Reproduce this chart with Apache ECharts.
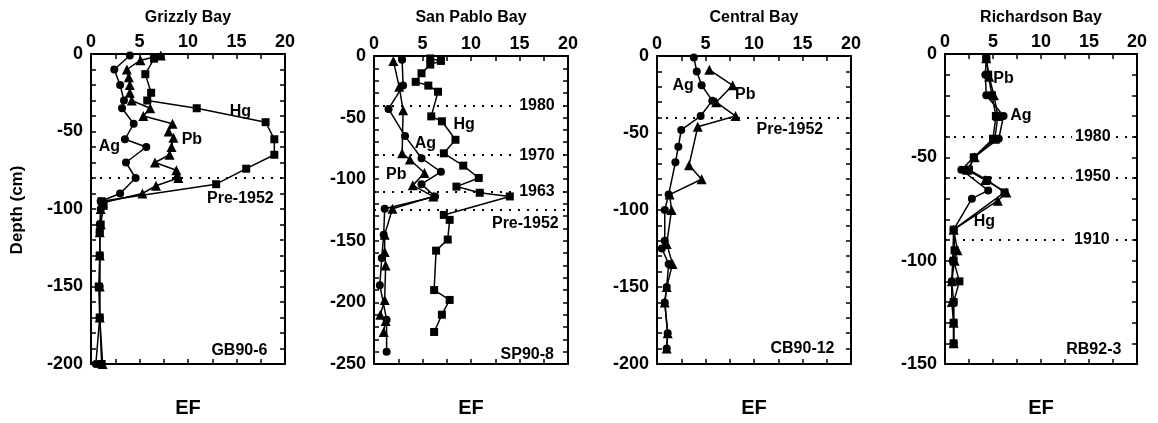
<!DOCTYPE html>
<html><head><meta charset="utf-8">
<script src="https://cdn.jsdelivr.net/npm/echarts@6/dist/echarts.min.js"></script>
<style>html,body{margin:0;padding:0;background:#fff}#c{width:1158px;height:423px}</style>
</head><body><div id="c"></div>
<script>
// ---------- DATA (EF, depth cm) ----------
const panelTitles = ['Grizzly Bay', 'San Pablo Bay', 'Central Bay', 'Richardson Bay'];
const coreNames = ['GB90-6', 'SP90-8', 'CB90-12', 'RB92-3'];
const depthMins = [-200, -250, -200, -150];
const efMax = 20;

// Grizzly Bay GB90-6
const gbAg = [[4.0,-1],[2.4,-10],[3.0,-20],[3.4,-30],[3.2,-35],[4.4,-45],[3.5,-55],[5.7,-60],[3.6,-70],[4.6,-80],[3.0,-90],[1.0,-95],[1.0,-100],[0.9,-110],[0.9,-115],[0.9,-130],[0.9,-150],[0.9,-170],[0.5,-200]];
const gbPb = [[7.2,-1],[5.1,-4],[3.7,-10],[3.9,-15],[4.0,-20],[4.0,-25],[4.2,-30],[6.1,-35],[5.4,-40],[8.4,-45],[8.0,-50],[8.5,-54],[8.3,-60],[8.1,-65],[6.6,-70],[8.8,-75],[8.9,-78],[9.0,-80],[6.7,-85],[5.3,-90],[1.2,-96],[1.0,-100],[1.0,-110],[0.9,-115],[0.9,-130],[0.9,-150],[0.9,-170],[1.2,-200]];
const gbHg = [[6.5,-3],[5.6,-13],[6.2,-25],[5.8,-30],[10.9,-35],[18.0,-44],[18.9,-55],[18.9,-65],[16.0,-74],[12.9,-84],[1.1,-95],[1.3,-98],[1.0,-110],[0.9,-115],[0.9,-130],[0.8,-150],[0.9,-170],[1.1,-200]];

// San Pablo Bay SP90-8
const spAg = [[2.9,-3],[3.0,-24],[1.5,-43],[3.2,-65],[4.9,-83],[6.9,-94],[4.9,-104],[6.3,-114],[1.1,-124],[1.0,-145],[0.8,-164],[0.6,-186],[1.3,-214],[1.3,-240]];
const spPb = [[2.0,-4],[2.6,-25],[3.0,-44],[2.9,-79],[3.7,-84],[5.2,-95],[4.0,-105],[6.1,-114],[1.9,-124],[1.1,-145],[1.1,-159],[1.2,-170],[1.1,-198],[0.65,-210],[1.2,-215],[1.0,-224]];
const spHg = [[5.8,-2],[6.9,-4],[5.8,-7],[4.9,-14],[4.3,-21],[5.6,-24],[6.6,-29],[5.9,-49],[7.0,-53],[8.4,-68],[7.2,-79],[9.2,-89],[10.8,-99],[8.5,-106],[10.9,-111],[14.0,-114],[7.2,-129],[7.8,-133],[7.6,-149],[6.4,-158],[6.2,-190],[7.8,-198],[7.0,-210],[6.2,-224]];

// Central Bay CB90-12
const cbAg = [[3.8,-1],[4.1,-10],[4.6,-19],[5.7,-29],[4.5,-39],[2.5,-48],[2.2,-59],[1.9,-69],[1.2,-90],[0.8,-100],[0.8,-120],[0.5,-125],[1.2,-135],[1.0,-150],[0.8,-160],[1.1,-180],[1.0,-190]];
const cbPb = [[5.4,-9],[7.8,-19],[6.1,-30],[8.1,-39],[4.2,-46],[3.3,-71],[4.6,-80],[1.3,-90],[1.5,-100],[1.0,-122],[1.6,-135],[1.0,-150],[0.8,-160],[1.1,-180],[1.0,-190]];

// Richardson Bay RB92-3
const rbAg = [[4.3,-2],[4.2,-10],[4.3,-20],[6.1,-30],[5.6,-41],[3.0,-50],[1.7,-56],[4.5,-66],[2.8,-70],[0.9,-85],[0.8,-100],[0.7,-110],[0.9,-120],[0.9,-130],[0.9,-140]];
const rbPb = [[4.3,-2],[4.6,-11],[5.1,-20],[5.5,-30],[5.2,-41],[3.1,-50],[2.3,-56],[4.2,-61],[6.4,-67],[5.5,-71],[0.9,-85],[1.3,-95],[1.0,-100],[0.7,-110],[0.7,-120],[0.9,-130],[0.9,-140]];
const rbHg = [[4.3,-2],[4.5,-10],[4.9,-20],[5.3,-30],[5.0,-41],[3.0,-50],[2.5,-56],[4.4,-61],[6.2,-67],[0.9,-85],[1.0,-95],[0.9,-100],[1.5,-110],[0.9,-120],[0.9,-130],[0.9,-140]];

// horizontal dated horizons (depth cm)
const gbHorizons = [-80];
const spHorizons = [-40, -80, -110, -125];
const cbHorizons = [-40];
const rbHorizons = [-40, -60, -90];

// text annotations [EF, depth, text, boxed]
const gbNotes = [[15.4,-37,'Hg',0],[10.4,-55.5,'Pb',0],[1.9,-60,'Ag',0],[15.4,-93.5,'Pre-1952',0],[15.3,-191.5,'GB90-6',0]];
const spNotes = [[9.3,-56,'Hg',0],[5.3,-71,'Ag',0],[2.3,-96,'Pb',0],[16.8,-40,'1980',1],[16.8,-81,'1970',1],[16.8,-110,'1963',1],[15.6,-136,'Pre-1952',0],[15.8,-242,'SP90-8',0]];
const cbNotes = [[2.7,-19,'Ag',0],[9.1,-25,'Pb',0],[13.7,-48,'Pre-1952',0],[15.0,-190,'CB90-12',0]];
const rbNotes = [[6.1,-12,'Pb',0],[7.9,-30,'Ag',0],[15.4,-40,'1980',1],[15.4,-59.4,'1950',1],[4.1,-81,'Hg',0],[15.3,-90,'1910',1],[15.5,-143,'RB92-3',0]];

// ---------- LAYOUT ----------
const FONT = '"Liberation Sans", Arial, Helvetica, sans-serif';
const gridBoxes = [
  {left: 91, top: 54, width: 194, height: 310},
  {left: 374, top: 56, width: 194, height: 308},
  {left: 657, top: 56, width: 194, height: 308},
  {left: 945, top: 54, width: 192, height: 310}
];
const panels = [
  {series: [['Ag', gbAg, 'circle'], ['Pb', gbPb, 'triangle'], ['Hg', gbHg, 'rect']], horizons: gbHorizons, notes: gbNotes},
  {series: [['Ag', spAg, 'circle'], ['Pb', spPb, 'triangle'], ['Hg', spHg, 'rect']], horizons: spHorizons, notes: spNotes},
  {series: [['Ag', cbAg, 'circle'], ['Pb', cbPb, 'triangle']], horizons: cbHorizons, notes: cbNotes},
  {series: [['Ag', rbAg, 'circle'], ['Pb', rbPb, 'triangle'], ['Hg', rbHg, 'rect']], horizons: rbHorizons, notes: rbNotes}
];

const axisLine = {show: true, onZero: false, lineStyle: {color: '#000', width: 2}};
const tick = {show: true, inside: true, length: 5, lineStyle: {color: '#000', width: 1.5}};
const labelFont = {color: '#000', fontFamily: FONT, fontWeight: 'bold', fontSize: 18};

const grid = [], xAxis = [], yAxis = [], series = [], graphic = [];
gridBoxes.forEach((g, i) => {
  grid.push(Object.assign({containLabel: false}, g));
  xAxis.push({type: 'value', gridIndex: i, position: 'top', min: 0, max: efMax, interval: 2.5,
    axisLine, axisTick: tick, splitLine: {show: false},
    axisLabel: Object.assign({margin: 3, formatter: v => (v % 5 === 0 ? String(v) : '')}, labelFont)});
  xAxis.push({type: 'value', gridIndex: i, position: 'bottom', min: 0, max: efMax, interval: 2.5,
    axisLine, axisTick: tick, splitLine: {show: false}, axisLabel: {show: false}});
  yAxis.push({type: 'value', gridIndex: i, position: 'left', min: depthMins[i], max: 0, interval: 10,
    axisLine, axisTick: tick, splitLine: {show: false},
    axisLabel: Object.assign({margin: 8, formatter: v => (v % 50 === 0 ? String(v) : '')}, labelFont)});
  yAxis.push({type: 'value', gridIndex: i, position: 'right', min: depthMins[i], max: 0, interval: 10,
    axisLine, axisTick: tick, splitLine: {show: false}, axisLabel: {show: false}});

  const p = panels[i];
  p.series.forEach(([name, data, sym], k) => {
    const s = {
      type: 'line', name, data, xAxisIndex: 2 * i, yAxisIndex: 2 * i,
      symbol: sym, symbolSize: sym === 'triangle' ? 10 : 8, showSymbol: true,
      lineStyle: {color: '#000', width: 1.5}, itemStyle: {color: '#000'},
      animation: false, z: 3
    };
    if (k === 0) {
      s.markLine = {silent: true, symbol: 'none', animation: false,
        lineStyle: {color: '#000', type: [2, 7], width: 2},
        label: {show: false},
        data: p.horizons.map(v => ({yAxis: v}))};
    }
    series.push(s);
  });
  series.push({
    type: 'scatter', xAxisIndex: 2 * i, yAxisIndex: 2 * i,
    data: p.notes.map(d => d[3]
      ? {value: d, label: {backgroundColor: '#fff', padding: [1, 3]}}
      : {value: d}),
    symbolSize: 0, itemStyle: {color: '#000', opacity: 1}, animation: false, silent: true, z: 10,
    label: {show: true, position: 'inside', formatter: prm => prm.value[2],
      color: '#000', fontFamily: FONT, fontWeight: 'bold', fontSize: 16,
      textBorderWidth: 0, opacity: 1}
  });

  const cx = g.left + g.width / 2;
  graphic.push({type: 'text', x: cx, y: 18, style: {text: panelTitles[i], align: 'center', verticalAlign: 'middle',
    font: 'bold 16px ' + FONT, fill: '#000'}});
  graphic.push({type: 'text', x: cx, y: 408, style: {text: 'EF', align: 'center', verticalAlign: 'middle',
    font: 'bold 20px ' + FONT, fill: '#000'}});
});
graphic.push({type: 'text', x: 17, y: 210, rotation: Math.PI / 2, style: {text: 'Depth (cm)', align: 'center', verticalAlign: 'middle',
  font: 'bold 17px ' + FONT, fill: '#000'}});

const chart = echarts.init(document.getElementById('c'), null, {renderer: 'canvas'});
chart.setOption({animation: false, backgroundColor: '#fff', grid, xAxis, yAxis, series, graphic});
</script>
</body></html>
